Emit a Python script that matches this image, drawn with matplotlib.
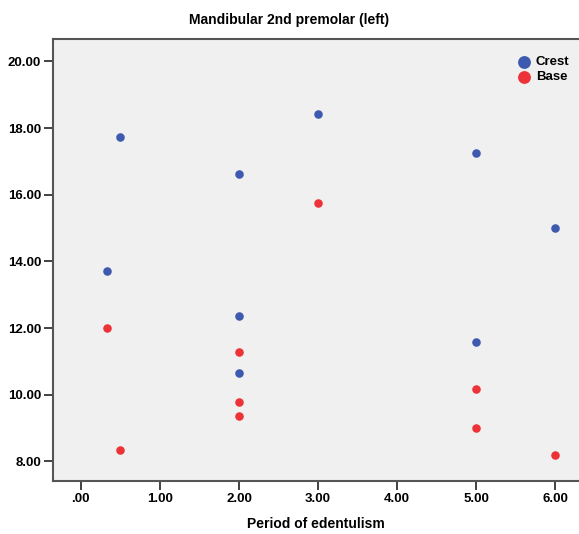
import matplotlib
matplotlib.use("Agg")
import matplotlib.pyplot as plt

# 데이터
crest_x = [0.5, 3.0, 2.0, 5.0, 6.0, 0.33, 2.0, 5.0, 2.0]
crest_y = [17.72, 18.41, 16.61, 17.25, 15.01, 13.72, 12.35, 11.59, 10.66]
base_x = [0.33, 3.0, 2.0, 2.0, 2.0, 5.0, 5.0, 0.5, 6.0]
base_y = [11.99, 15.74, 11.28, 9.78, 9.36, 10.18, 9.01, 8.34, 8.19]

x_ticks = [0, 1, 2, 3, 4, 5, 6]
x_labels = [".00", "1.00", "2.00", "3.00", "4.00", "5.00", "6.00"]
y_ticks = [8, 10, 12, 14, 16, 18, 20]
y_labels = ["8.00", "10.00", "12.00", "14.00", "16.00", "18.00", "20.00"]

blue = "#3d5aaf"
red = "#ee3338"

plt.rcParams['font.family'] = ['Liberation Sans', 'DejaVu Sans']

fig = plt.figure(figsize=(5.79, 5.34), dpi=100)
ax = fig.add_axes([53/579, 1-481/534, 1-53/579, (481-39)/534])
ax.set_facecolor("#f0f0f0")

ax.scatter(crest_x, crest_y, s=38, color=blue, label="Crest", zorder=3, linewidths=0)
ax.scatter(base_x, base_y, s=38, color=red, label="Base", zorder=3, linewidths=0)

ax.set_xlim(-0.352, 6.30)
ax.set_ylim(7.41, 20.67)
ax.set_xticks(x_ticks)
ax.set_xticklabels(x_labels, fontweight="bold", fontsize=9.5)
ax.set_yticks(y_ticks)
ax.set_yticklabels(y_labels, fontweight="bold", fontsize=9.5)
ax.tick_params(direction="out", length=6.5, width=1.3, color="#333333", pad=2)

for s in ["left", "bottom", "top"]:
    ax.spines[s].set_color("#555555")
    ax.spines[s].set_linewidth(1.5)
ax.spines["right"].set_visible(False)

# 제목은 그림 전체 가운데
fig.text(0.5, 1-20/534, "Mandibular 2nd premolar (left)", ha="center", va="center",
         fontsize=10, fontweight="bold")
ax.set_xlabel("Period of edentulism", fontweight="bold", fontsize=10, labelpad=9)

leg = ax.legend(loc="upper right", bbox_to_anchor=(0.997, 0.98), frameon=False,
                markerscale=1.5, handletextpad=-0.1, labelspacing=0.22,
                borderaxespad=0.2, prop={"weight": "bold", "size": 9.5})

fig.savefig("out.png", dpi=100)
